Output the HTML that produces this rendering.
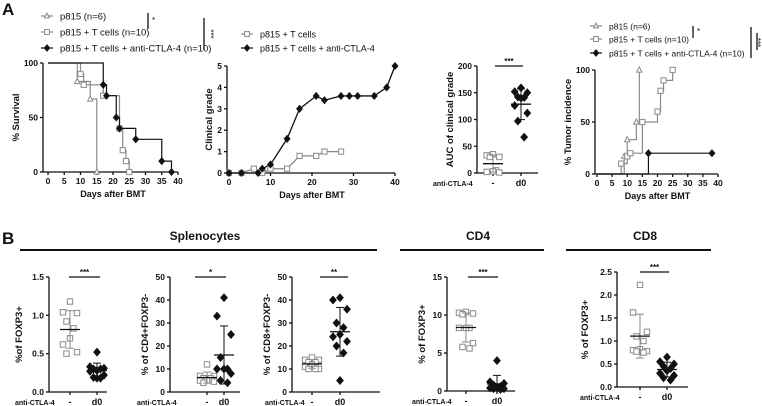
<!DOCTYPE html>
<html><head><meta charset="utf-8"><style>
html,body{margin:0;padding:0;background:#fff}
svg{display:block;font-family:"Liberation Sans",Arial,sans-serif}
</style></head><body>
<svg id="fig" width="762" height="406" viewBox="0 0 762 406" xmlns="http://www.w3.org/2000/svg"></svg>
<script>
// ---------- DATA ----------
// Panel A1 survival (Kaplan-Meier)
const survTri_t=[0,9,13,15], survTri_v=[100,83,67,0];
const survSq_t=[0,10,11,17,22,23,24,25], survSq_v=[100,90,80,70,40,20,10,0];
const survDi_t=[0,17,18,21,22,27,35,38], survDi_v=[100,80,70,50,40,30,10,0];
const survXTicks=[0,5,10,15,20,25,30,35,40], survYTicks=[0,50,100];
// Panel A2 clinical grade
const cgSq_days=[0,3,6,8,10,14,17,21,23,27], cgSq_vals=[0,0,0.2,0,0.2,0.2,0.8,0.8,1.0,1.0];
const cgDi_days=[0,3,7,8,10,14,17,21,23,27,29,31,35,38,40], cgDi_vals=[0,0,0,0.2,0.4,1.6,3.0,3.6,3.4,3.6,3.6,3.6,3.6,4.0,5.0];
const cgXTicks=[0,10,20,30,40], cgYTicks=[0,1,2,3,4,5];
// Panel A3 AUC
const aucOpen=[35,33,30,30,5,3,2,1];
const aucFilled=[159,152,150,142,141,140,126,112,97,67];
const aucYTicks=[0,50,100,150,200];
// Panel A4 tumor incidence
const tiTri_t=[0,9,10,13,14], tiTri_v=[0,17,33,50,100];
const tiSq_t=[0,8,10,11,15,20,21,22,25], tiSq_v=[0,10,17,20,50,60,80,90,100];
const tiDi_t=[0,17,38], tiDi_v=[0,20,20];
// Panel B
const b1Open=[1.18,1.04,1.03,0.92,0.83,0.70,0.62,0.52,0.50];
const b1Filled=[0.52,0.33,0.31,0.30,0.30,0.28,0.27,0.22,0.19,0.18,0.18];
const b1Ticks=[0,0.5,1.0,1.5];
const b2Open=[12,7,7,6,6,5,5,4.5,4];
const b2Filled=[41,33,25,15,10,10,10,8,5,4];
const b2Ticks=[0,10,20,30,40,50];
const b3Open=[15,14,14,13,13,12,11,10,10,10];
const b3Filled=[41,40,36,30,28,25,24,22,20,17,5];
const b3Ticks=[0,10,20,30,40,50];
const b4Open=[10.4,10.3,10.2,10.1,8.3,8.3,8.3,6.3,5.8,5.6];
const b4Filled=[4.0,1.2,1.0,0.8,0.6,0.5,0.4,0.3,0.3,0.2];
const b4Ticks=[0,5,10,15];
const b5Open=[2.22,1.62,1.2,1.1,1.0,0.82,0.8,0.78,0.77,0.75];
const b5Filled=[0.65,0.55,0.5,0.45,0.4,0.35,0.3,0.25,0.2,0.15];
const b5Ticks=[0,0.5,1.0,1.5,2.0,2.5];

// ---------- HELPERS ----------
const NS="http://www.w3.org/2000/svg";
const fig=document.getElementById('fig');
const GRAY='#8a8a8a';
function mk(tag,attrs,name,parent){
  const e=document.createElementNS(NS,tag);
  for(const k in attrs)e.setAttribute(k,attrs[k]);
  
  
  (parent||fig).appendChild(e);return e;
}
function txt(x,y,s,size,anchor,name,extra){
  const t=mk('text',Object.assign({x:x,y:y,'font-size':size,'font-weight':'bold','text-anchor':anchor||'middle',fill:'#111'},extra||{}),name);
  t.textContent=s;return t;
}
function line(x1,y1,x2,y2,name,col,w){return mk('line',{x1:x1,y1:y1,x2:x2,y2:y2,stroke:col||'#111','stroke-width':w||1.3},name);}
function marker(type,x,y,name,col,s){
  s=s||2.6;col=col||'#111';
  if(type==='sq')return mk('rect',{x:x-s,y:y-s,width:2*s,height:2*s,fill:'#fff',stroke:col,'stroke-width':1},name);
  if(type==='tri')return mk('polygon',{points:`${x},${y-s-0.5} ${x-s},${y+s-0.5} ${x+s},${y+s-0.5}`,fill:'#fff',stroke:col,'stroke-width':1},name);
  return mk('polygon',{points:`${x},${y-s-1} ${x+s+0.5},${y} ${x},${y+s+1} ${x-s-0.5},${y}`,fill:'#111',stroke:'#111','stroke-width':0.6},name);
}
function yAxis(ax,top,bot,min,max,ticks,title,fmt,key,titleOff){
  const sy=v=>bot-(v-min)/(max-min)*(bot-top);
  line(ax,top,ax,bot,key+'-y-axis');
  ticks.forEach(v=>{line(ax-3,sy(v),ax,sy(v),key+'-y-tick');
    txt(ax-5,sy(v)+3,fmt?fmt(v):String(v),8.5,'end',key+'-y-tick-label');});
  const tx=ax-(titleOff||27),ty=(top+bot)/2;
  txt(tx,ty,title,9.5,'middle',key+'-y-axis-title',{transform:`rotate(-90 ${tx} ${ty})`});
  return sy;
}
function xAxisNum(x0,x40,ax,end,y,min,max,ticks,key,title){
  const sx=v=>x0+(v-min)/(max-min)*(x40-x0);
  line(ax,y,end,y,key+'-x-axis');
  ticks.forEach(v=>{line(sx(v),y,sx(v),y+3,key+'-x-tick');txt(sx(v),y+12,String(v),8.5,'middle',key+'-x-tick-label');});
  txt((x0+x40)/2,y+25,title,9,'middle',key+'-x-axis-title');
  return sx;
}
function stepLine(ts,vs,sx,sy,col,name){
  let d=`M${sx(ts[0])},${sy(vs[0])}`;
  for(let i=1;i<ts.length;i++){d+=` H${sx(ts[i])} V${sy(vs[i])}`;}
  mk('path',{d:d,fill:'none',stroke:col,'stroke-width':1.2},name);
}
function legendItem(x,y,type,col,label,size,name){
  line(x-6,y,x+6,y,name+'-line',col,1.2);marker(type,x,y,name+'-marker',col,2.4);
  txt(x+13,y+3.5,label,size,'start',name+'-label',{'font-weight':'normal'});
}
function sig(x,y1,y2,stars,name,rot){
  line(x,y1,x,y2,name+'-bar','#111',1.3);
  const t=txt(x+4,(y1+y2)/2+2,stars,8,'start',name+'-stars',{'font-weight':'normal'});
  if(rot){t.setAttribute('transform',`rotate(90 ${x+4} ${(y1+y2)/2})`);t.setAttribute('x',x+4);t.setAttribute('y',(y1+y2)/2);t.setAttribute('text-anchor','middle');}
}
function meanSd(a){const m=a.reduce((s,v)=>s+v,0)/a.length;const sd=Math.sqrt(a.reduce((s,v)=>s+(v-m)*(v-m),0)/(a.length-1));return [m,sd];}
function dotPlot(c){
  const sy=yAxis(c.ax,c.top,c.bot,0,c.max,c.ticks,c.title,c.fmt,c.key,c.titleOff);
  line(c.ax,c.bot,c.xEnd,c.bot,c.key+'-x-axis');
  [c.c1,c.c2].forEach(cx=>line(cx,c.bot,cx,c.bot+3,c.key+'-x-tick'));
  txt(c.c1,c.bot+13,'-',9,'middle',c.key+'-cat-label-neg');
  txt(c.c2,c.bot+13,'d0',9,'middle',c.key+'-cat-label-d0');
  txt(c.lblX,c.bot+13,'anti-CTLA-4',7,'start',c.key+'-treatment-label');
  line(c.s1,c.top,c.s2,c.top,c.key+'-sig-bar','#111',1.2);
  txt((c.s1+c.s2)/2,c.top-2,c.stars,8,'middle',c.key+'-sig-stars');
  [[c.open,c.c1,'sq',GRAY],[c.filled,c.c2,'di','#111']].forEach(([arr,cx,tp,col],g)=>{
    const sorted=arr.slice().sort((a,b)=>b-a);
    sorted.forEach((v,i)=>{const off=[0,-7,7,-3.5,3.5][i%5]*(c.spread||1);
      marker(tp,cx+off,sy(v),c.key+(g?'-point-d0':'-point-ctrl'),col,g?3:2.7);});
    const [m,sd]=meanSd(arr);const ecol=g?'#111':GRAY;
    line(cx,sy(Math.max(0,m-sd)),cx,sy(m+sd),c.key+'-error-bar',ecol,1);
    line(cx-4,sy(m+sd),cx+4,sy(m+sd),c.key+'-error-cap',ecol,1);
    line(cx-4,sy(Math.max(0,m-sd)),cx+4,sy(Math.max(0,m-sd)),c.key+'-error-cap',ecol,1);
    line(cx-10,sy(m),cx+10,sy(m),c.key+'-mean-line','#111',1.3);
  });
}

// ---------- PANEL LABELS ----------
txt(2,15,'A',17,'start','panel-label-a');
txt(2,244,'B',17,'start','panel-label-b');

// ---------- A1 SURVIVAL ----------
legendItem(47,16,'tri',GRAY,'p815 (n=6)',9.5,'surv-legend-p815');
legendItem(47,32,'sq',GRAY,'p815 + T cells (n=10)',9.5,'surv-legend-tcells');
legendItem(47,48,'di','#111','p815 + T cells + anti-CTLA-4 (n=10)',9.5,'surv-legend-ctla4');
sig(148,13,29,'*','surv-sig-1');
sig(204,18,50,'***','surv-sig-2',true);
(function(){
  const sy=yAxis(43,63,172,0,100,survYTicks,'% Survival',null,'surv',24);
  const sx=xAxisNum(48,178,43,178,172,0,40,survXTicks,'surv','Days after BMT');
  stepLine(survTri_t,survTri_v,sx,sy,GRAY,'surv-line-p815');
  stepLine(survSq_t,survSq_v,sx,sy,GRAY,'surv-line-tcells');
  stepLine(survDi_t,survDi_v,sx,sy,'#111','surv-line-ctla4');
  survTri_t.forEach((t,i)=>{if(i)marker('tri',sx(t),sy(survTri_v[i]),'surv-point-p815',GRAY);});
  survSq_t.forEach((t,i)=>{if(i)marker('sq',sx(t),sy(survSq_v[i]),'surv-point-tcells',GRAY);});
  survDi_t.forEach((t,i)=>{if(i)marker('di',sx(t),sy(survDi_v[i]),'surv-point-ctla4');});
})();

// ---------- A2 CLINICAL GRADE ----------
legendItem(247,34,'sq',GRAY,'p815 + T cells',9,'cg-legend-tcells');
legendItem(247,48,'di','#111','p815 + T cells + anti-CTLA-4',9,'cg-legend-ctla4');
(function(){
  const sy=yAxis(227,66,173,0,5,cgYTicks,'Clinical grade',null,'cg',15);
  const sx=xAxisNum(229,395,227,395,173,0,40,cgXTicks,'cg','Days after BMT');
  const pl=(d,v,col,name)=>mk('polyline',{points:d.map((x,i)=>sx(x)+','+sy(v[i])).join(' '),fill:'none',stroke:col,'stroke-width':1.3},name);
  pl(cgSq_days,cgSq_vals,GRAY,'cg-line-tcells');
  pl(cgDi_days,cgDi_vals,'#111','cg-line-ctla4');
  cgSq_days.forEach((d,i)=>marker('sq',sx(d),sy(cgSq_vals[i]),'cg-point-tcells',GRAY));
  cgDi_days.forEach((d,i)=>marker('di',sx(d),sy(cgDi_vals[i]),'cg-point-ctla4'));
})();

// ---------- A3 AUC ----------
dotPlot({key:'auc',ax:477,top:66,bot:173,xEnd:538,max:200,ticks:aucYTicks,title:'AUC of clinical grade',
  c1:493,c2:521,lblX:433,s1:495,s2:523,stars:'***',open:aucOpen,filled:aucFilled,titleOff:24,spread:0.9});
// ---------- A4 TUMOR INCIDENCE ----------
legendItem(596,26,'tri',GRAY,'p815 (n=6)',8.5,'ti-legend-p815');
legendItem(596,39,'sq',GRAY,'p815 + T cells (n=10)',8.5,'ti-legend-tcells');
legendItem(596,53,'di','#111','p815 + T cells + anti-CTLA-4 (n=10)',8.5,'ti-legend-ctla4');
sig(693,26,38,'*','ti-sig-1');
sig(751,27,58,'***','ti-sig-2',true);
sig(757,33,50,'**','ti-sig-3',true);
(function(){
  const sy=yAxis(595,70,174,0,100,survYTicks,'% Tumor incidence',null,'ti',24);
  const sx=xAxisNum(597,718,595,718,174,0,40,survXTicks,'ti','Days after BMT');
  stepLine(tiTri_t,tiTri_v,sx,sy,GRAY,'ti-line-p815');
  stepLine(tiSq_t,tiSq_v,sx,sy,GRAY,'ti-line-tcells');
  stepLine(tiDi_t,tiDi_v,sx,sy,'#111','ti-line-ctla4');
  tiTri_t.forEach((t,i)=>{if(i)marker('tri',sx(t),sy(tiTri_v[i]),'ti-point-p815',GRAY);});
  tiSq_t.forEach((t,i)=>{if(i)marker('sq',sx(t),sy(tiSq_v[i]),'ti-point-tcells',GRAY);});
  tiDi_t.forEach((t,i)=>{if(i)marker('di',sx(t),sy(tiDi_v[i]),'ti-point-ctla4');});
})();

// ---------- B HEADERS ----------
txt(205,240,'Splenocytes',12,'middle','header-splenocytes');
line(20,250,377,250,'header-line-splenocytes','#111',2);
txt(478,240,'CD4',12,'middle','header-cd4');
line(400,250,544,250,'header-line-cd4','#111',2);
txt(645,240,'CD8',12,'middle','header-cd8');
line(566,250,711,250,'header-line-cd8','#111',2);

// ---------- B PLOTS ----------
const f1=v=>v.toFixed(1);
dotPlot({key:'b1',ax:49,top:277,bot:392,xEnd:107,max:1.5,ticks:b1Ticks,fmt:f1,title:'%of FOXP3+',
  c1:70,c2:97,lblX:15,s1:69,s2:100,stars:'***',open:b1Open,filled:b1Filled,titleOff:27});
dotPlot({key:'b2',ax:170,top:277,bot:392,xEnd:240,max:50,ticks:b2Ticks,title:'% of CD4+FOXP3-',
  c1:207,c2:224,lblX:137,s1:195,s2:226,stars:'*',open:b2Open,filled:b2Filled,titleOff:22});
dotPlot({key:'b3',ax:292,top:277,bot:392,xEnd:380,max:50,ticks:b3Ticks,title:'% of CD8+FOXP3-',
  c1:312,c2:340,lblX:265,s1:320,s2:348,stars:'**',open:b3Open,filled:b3Filled,titleOff:22});
dotPlot({key:'b4',ax:447,top:277,bot:391,xEnd:515,max:15,ticks:b4Ticks,title:'% of FOXP3+',
  c1:466,c2:497,lblX:412,s1:468,s2:498,stars:'***',open:b4Open,filled:b4Filled,titleOff:22});
dotPlot({key:'b5',ax:617,top:272,bot:387,xEnd:688,max:2.5,ticks:b5Ticks,fmt:f1,title:'% of FOXP3+',
  c1:640,c2:667,lblX:580,s1:640,s2:669,stars:'***',open:b5Open,filled:b5Filled,titleOff:29});
</script>
</body></html>
